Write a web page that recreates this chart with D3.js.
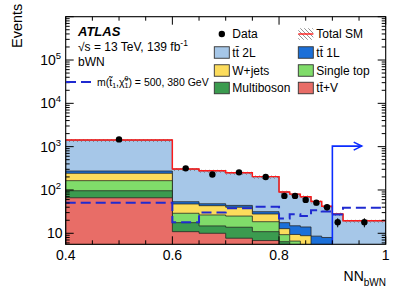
<!DOCTYPE html>
<html><head><meta charset="utf-8">
<script src="https://cdn.jsdelivr.net/npm/d3@7"></script>
<style>body{margin:0;background:#fff}svg{display:block}text{font-family:"Liberation Sans",Arial,Helvetica,sans-serif}</style>
</head><body>
<svg id="c" width="407" height="292"></svg>
<script>
// ---------------- data ----------------
const binEdges = [0.4, 0.6, 0.65, 0.7, 0.75, 0.8, 0.82, 0.84, 0.86, 0.88, 0.9, 0.92, 1.0];
const ttV       = [66, 10.9, 10, 7.7, 6.8, 3, 2, 1.5, 1, 0.8, 0.5, 0.4];
const multiboson= [30, 6.7, 4.8, 6.1, 4.1, 3.4, 2.5, 1.5, 1, 0.7, 0.5, 0.4];
const singleTop = [68, 11.4, 11.7, 11.2, 7.6, 2.9, 2.1, 1.5, 1, 1, 0.5, 0.4];
const wjets     = [79, 18.5, 16.9, 15, 9.4, 3.5, 2.8, 4.3, 1.5, 1.5, 1, 0.8];
const tt1L      = [31, 6, 4.6, 4, 3.6, 4.8, 5.5, 5.2, 4.1, 4, 1.5, 1.5];
const tt2L      = [1149, 251.5, 230, 206, 171.5, 72.4, 65.2, 56, 45.4, 34, 24, 16];
const dataVals  = [1470, 316, 228, 255, 199, 73, 73, 59, 51, 40, 18, 18];
const signal    = [51, 18, 30, 38, 41, 22, 27.5, 25, 34, 32, 27, 39];
const xTicks = [0.4, 0.6, 0.8, 1.0];
const xTickLabels = ["0.4", "0.6", "0.8", "1"];
const yDecades = [1, 2, 3, 4, 5];
const cutValue = 0.9;

// ---------------- setup ----------------
const svg = d3.select("#c");
const X0 = 65.7, X1 = 385.7, Y0 = 244.3, Y1 = 16.7;
const x = d3.scaleLinear().domain([0.4, 1.0]).range([X0, X1]);
const y = d3.scaleLog().domain([5.57, 1e6]).range([Y0, Y1]);

const defs = svg.append("defs");
defs.append("clipPath").attr("id", "clip").append("rect")
  .attr("x", X0).attr("y", Y1).attr("width", X1 - X0).attr("height", Y0 - Y1);
const pat = defs.append("pattern").attr("id", "hatch").attr("patternUnits", "userSpaceOnUse")
  .attr("width", 4).attr("height", 4);
pat.append("path").attr("d", "M-1,-1 L5,5 M-1,3 L1,5 M3,-1 L5,1").attr("stroke", "#777").attr("stroke-width", 0.8);

const layers = [
  {name: "ttV", vals: ttV, color: "#e86d67"},
  {name: "Multiboson", vals: multiboson, color: "#3b9b4f"},
  {name: "Single top", vals: singleTop, color: "#80dc6a"},
  {name: "W+jets", vals: wjets, color: "#fcdc5c"},
  {name: "tt1L", vals: tt1L, color: "#1b6fd8"},
  {name: "tt2L", vals: tt2L, color: "#a6c7e8"}
];
let cum = binEdges.slice(0, -1).map(() => 0);
layers.forEach(l => { cum = cum.map((c, i) => c + l.vals[i]); l.cum = cum.slice(); });
const total = cum.slice();

function stepPoints(vals) {
  const pts = [];
  vals.forEach((v, i) => { pts.push([binEdges[i], v]); pts.push([binEdges[i + 1], v]); });
  return pts;
}
const floorV = 1;
function stepArea(vals) {
  const pts = stepPoints(vals);
  let d = "M" + x(binEdges[0]) + "," + y(floorV);
  pts.forEach(p => d += "L" + x(p[0]) + "," + y(p[1]));
  d += "L" + x(binEdges[binEdges.length - 1]) + "," + y(floorV) + "Z";
  return d;
}
function stepLine(vals) {
  return d3.line().x(p => x(p[0])).y(p => y(p[1]))(stepPoints(vals));
}

const plot = svg.append("g").attr("clip-path", "url(#clip)");
layers.slice().reverse().forEach(l => {
  plot.append("path").attr("d", stepArea(l.cum)).attr("fill", l.color)
    .attr("stroke", "#222").attr("stroke-width", 0.9).attr("stroke-opacity", 0.85);
});
const bandArea = d3.area().x(p => x(p[0])).y0(p => y(p[1] * 0.9)).y1(p => y(p[1] * 1.06));
plot.append("path").attr("d", bandArea(stepPoints(total))).attr("fill", "url(#hatch)");
plot.append("path").attr("d", stepLine(total)).attr("fill", "none").attr("stroke", "#ff1a1a").attr("stroke-width", 1.4);
plot.append("path").attr("d", stepLine(signal)).attr("fill", "none").attr("stroke", "#1f2ad0")
  .attr("stroke-width", 2).attr("stroke-dasharray", "10,5");
const arrowY = 1030, arrowEnd = 0.955;
plot.append("path").attr("d", `M${x(cutValue)},${Y0}L${x(cutValue)},${y(arrowY)}L${x(arrowEnd)},${y(arrowY)}`)
  .attr("fill", "none").attr("stroke", "#0b2cff").attr("stroke-width", 1.6);
plot.append("path").attr("d", `M${x(arrowEnd) - 8},${y(arrowY) - 4}L${x(arrowEnd)},${y(arrowY)}L${x(arrowEnd) - 8},${y(arrowY) + 4}`)
  .attr("fill", "none").attr("stroke", "#0b2cff").attr("stroke-width", 1.6);
const centers = binEdges.slice(0, -1).map((e, i) => (e + binEdges[i + 1]) / 2);
dataVals.forEach((v, i) => {
  const e = Math.sqrt(v);
  plot.append("line").attr("x1", x(centers[i])).attr("x2", x(centers[i]))
    .attr("y1", y(v + e)).attr("y2", y(Math.max(v - e, 1))).attr("stroke", "#000").attr("stroke-width", 1);
  plot.append("circle").attr("cx", x(centers[i])).attr("cy", y(v)).attr("r", 3.2).attr("fill", "#000");
});

// ---------------- axes ----------------
const ax = svg.append("g").attr("stroke", "#000").attr("stroke-width", 1);
ax.append("rect").attr("x", X0).attr("y", Y1).attr("width", X1 - X0).attr("height", Y0 - Y1)
  .attr("fill", "none").attr("stroke", "#000").attr("stroke-width", 1.1);
const xMinor = d3.range(0.4, 1.0001, 0.05);
xMinor.forEach(t => {
  const major = xTicks.some(m => Math.abs(m - t) < 1e-6);
  const len = major ? 8 : 4;
  ax.append("line").attr("x1", x(t)).attr("x2", x(t)).attr("y1", Y0).attr("y2", Y0 - len);
  ax.append("line").attr("x1", x(t)).attr("x2", x(t)).attr("y1", Y1).attr("y2", Y1 + len);
});
const yt = [];
for (let p = 0; p <= 5; p++) for (let m = 1; m <= 9; m++) { const v = m * Math.pow(10, p); if (v >= 5.57 && v <= 1e6) yt.push({v, major: m === 1}); }
yt.push({v: 1e6, major: true});
yt.forEach(t => {
  const len = t.major ? 8 : 4;
  ax.append("line").attr("x1", X0).attr("x2", X0 + len).attr("y1", y(t.v)).attr("y2", y(t.v));
  ax.append("line").attr("x1", X1).attr("x2", X1 - len).attr("y1", y(t.v)).attr("y2", y(t.v));
});
xTicks.forEach((t, i) => {
  svg.append("text").attr("x", x(t)).attr("y", 260).attr("text-anchor", "middle")
    .attr("font-size", 14).text(xTickLabels[i]);
});
yDecades.forEach(p => {
  const tx = svg.append("text").attr("x", 61).attr("y", y(Math.pow(10, p)) + 5).attr("text-anchor", "end").attr("font-size", 14);
  if (p === 1) { tx.attr("x", 62.5).text("10"); }
  else { tx.append("tspan").text("10"); tx.append("tspan").attr("dy", -6).attr("font-size", 9.5).text(p); }
});
svg.append("text").attr("transform", "translate(22,48) rotate(-90)").attr("font-size", 14.5).text("Events");
const xt = svg.append("text").attr("x", 386).attr("y", 281).attr("text-anchor", "end").attr("font-size", 14);
xt.append("tspan").text("NN");
xt.append("tspan").attr("dy", 5).attr("font-size", 10).text("bWN");

// ---------------- labels / legend ----------------
svg.append("text").attr("x", 78).attr("y", 36).attr("font-size", 13).attr("font-weight", "bold").attr("font-style", "italic").text("ATLAS");
const s = svg.append("text").attr("x", 78).attr("y", 51).attr("font-size", 12);
s.append("tspan").text("\u221As = 13 TeV, 139 fb");
s.append("tspan").attr("dy", -5).attr("font-size", 8.5).text("-1");
svg.append("text").attr("x", 78).attr("y", 66).attr("font-size", 12).text("bWN");
svg.append("line").attr("x1", 66).attr("x2", 91).attr("y1", 82).attr("y2", 82)
  .attr("stroke", "#1f2ad0").attr("stroke-width", 2).attr("stroke-dasharray", "10,5");
const sl = svg.append("text").attr("x", 97).attr("y", 85.5).attr("font-size", 10.5);
sl.append("tspan").text("m(t\u0303");
sl.append("tspan").attr("dy", 2).attr("font-size", 7).text("1");
sl.append("tspan").attr("dy", -2).text(",\u03C7\u0303");
sl.append("tspan").attr("dy", -4.5).attr("font-size", 7).text("0");
sl.append("tspan").attr("dy", 6.5).attr("dx", -3.9).attr("font-size", 7).text("1");
sl.append("tspan").attr("dy", -2).text(") = 500, 380 GeV");

const legRows = [34, 52.5, 70.5, 88];
const col1 = 214.3, col2 = 298.3, bw = 15, bh = 11.5;
svg.append("circle").attr("cx", col1 + 7.5).attr("cy", legRows[0]).attr("r", 3.2).attr("fill", "#000");
svg.append("text").attr("x", col1 + 18).attr("y", legRows[0] + 4.3).attr("font-size", 12).text("Data");
svg.append("rect").attr("x", col2).attr("y", legRows[0] - bh / 2).attr("width", bw).attr("height", bh).attr("fill", "url(#hatch)");
svg.append("line").attr("x1", col2).attr("x2", col2 + bw).attr("y1", legRows[0]).attr("y2", legRows[0]).attr("stroke", "#ff1a1a").attr("stroke-width", 1.4);
svg.append("text").attr("x", col2 + 18).attr("y", legRows[0] + 4.3).attr("font-size", 12).text("Total SM");
const legItems = [
  {col: col1, row: 1, layer: "tt2L", label: ["t", "t\u0304", " 2L"]},
  {col: col2, row: 1, layer: "tt1L", label: ["t", "t\u0304", " 1L"]},
  {col: col1, row: 2, layer: "W+jets", label: ["W+jets"]},
  {col: col2, row: 2, layer: "Single top", label: ["Single top"]},
  {col: col1, row: 3, layer: "Multiboson", label: ["Multiboson"]},
  {col: col2, row: 3, layer: "ttV", label: ["t", "t\u0304", "+V"]}
];
legItems.forEach(it => {
  const l = layers.find(d => d.name === it.layer);
  svg.append("rect").attr("x", it.col).attr("y", legRows[it.row] - bh / 2).attr("width", bw).attr("height", bh)
    .attr("fill", l.color).attr("stroke", "#333").attr("stroke-width", 0.9);
  const t = svg.append("text").attr("x", it.col + 18).attr("y", legRows[it.row] + 4.3).attr("font-size", 12);
  it.label.forEach(p => t.append("tspan").text(p));
});
</script>
</body></html>
